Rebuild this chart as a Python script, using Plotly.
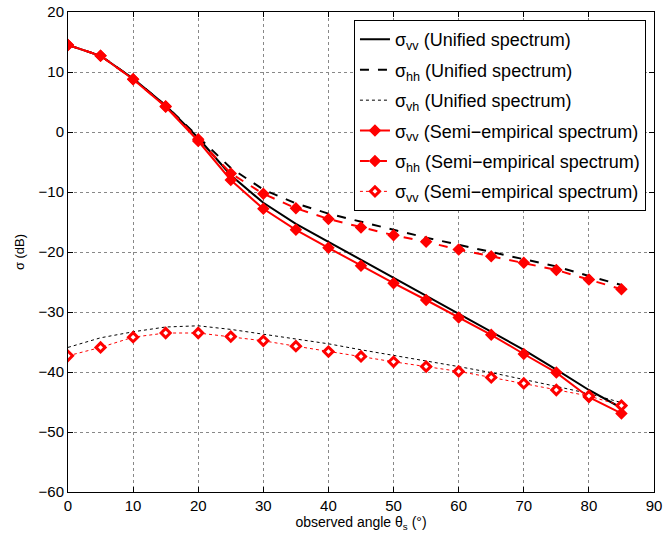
import plotly.graph_objects as go

angles = [0, 5, 10, 15, 20, 25, 30, 35, 40, 45, 50, 55, 60, 65, 70, 75, 80, 85]

uni_vv = [14.5, 12.7, 8.9, 4.4, -1.0, -7.2, -11.8, -15.3, -18.3, -21.3, -24.2, -27.2, -30.2, -33.2, -36.3, -39.6, -43.0, -46.0]
uni_hh = [14.5, 12.7, 8.9, 4.4, -0.8, -6.0, -9.6, -11.9, -13.6, -15.0, -16.3, -17.6, -18.8, -20.0, -21.1, -22.4, -24.0, -25.5]
uni_vh = [-35.9, -34.3, -33.3, -32.5, -32.3, -32.9, -33.7, -34.5, -35.3, -36.3, -37.2, -38.2, -39.1, -40.1, -41.2, -42.4, -43.6, -45.1]

semi_vv = [14.5, 12.7, 8.8, 4.2, -1.5, -8.0, -12.8, -16.3, -19.3, -22.3, -25.2, -28.0, -30.9, -33.8, -37.0, -40.1, -44.2, -46.9]
semi_hh = [14.5, 12.7, 8.8, 4.3, -1.2, -6.9, -10.3, -12.7, -14.5, -15.9, -17.2, -18.3, -19.6, -20.7, -21.8, -23.0, -24.6, -26.2]
semi_vh = [-37.3, -35.9, -34.2, -33.5, -33.5, -34.1, -34.8, -35.7, -36.6, -37.4, -38.3, -39.1, -39.9, -40.9, -41.9, -43.0, -44.0, -45.6]

x_ticks = [0, 10, 20, 30, 40, 50, 60, 70, 80, 90]
y_ticks = [20, 10, 0, -10, -20, -30, -40, -50, -60]

fig = go.Figure()

def add(y, name, group, color, dash, width, marker=None):
    kw = dict(x=angles, y=y, name=name, legendgroup=group,
              line=dict(color=color, dash=dash, width=width))
    if marker is None:
        kw["mode"] = "lines"
    else:
        kw["mode"] = "lines+markers"
        kw["marker"] = marker
    fig.add_trace(go.Scatter(**kw))

add(uni_vv, "σ<sub>vv</sub> (Unified spectrum)", "g1", "black", "solid", 2)
add(uni_hh, "σ<sub>hh</sub> (Unified spectrum)", "g2", "black", "dash", 2)
add(uni_vh, "σ<sub>vh</sub> (Unified spectrum)", "g3", "black", "dot", 1)
add(semi_vv, "σ<sub>vv</sub> (Semi−empirical spectrum)", "g4", "red", "solid", 2,
    dict(symbol="diamond", size=8, color="red", line=dict(color="red", width=1.5)))
add(semi_hh, "σ<sub>hh</sub> (Semi−empirical spectrum)", "g5", "red", "dash", 2,
    dict(symbol="diamond", size=8, color="red", line=dict(color="red", width=1.5)))
add(semi_vh, "σ<sub>vv</sub> (Semi−empirical spectrum)", "g6", "red", "dot", 1,
    dict(symbol="diamond", size=7, color="white", line=dict(color="red", width=3)))

axis_common = dict(
    showline=True, linecolor="black", linewidth=1, mirror="ticks",
    ticks="inside", ticklen=5, tickcolor="black", automargin=False,
    showgrid=True, gridcolor="#888888", griddash="dot", gridwidth=1,
    zeroline=False, tickfont=dict(family="Liberation Sans, Arial", size=15, color="black"),
)

fig.update_xaxes(range=[0, 90], tickvals=x_ticks, ticktext=[str(v) for v in x_ticks],
                 title=dict(text="observed angle θ<sub>s</sub> (°)", font=dict(size=14, color="black"), standoff=2),
                 **axis_common)
fig.update_yaxes(range=[-60, 20], tickvals=y_ticks, ticktext=[str(v).replace("-", "−") for v in y_ticks],
                 title=dict(text="σ (dB)", font=dict(size=13, color="black"), standoff=10),
                 **axis_common)

fig.update_layout(
    width=663, height=539,
    margin=dict(l=68, r=9, t=12, b=47, autoexpand=False),
    paper_bgcolor="white", plot_bgcolor="white",
    font=dict(family="Liberation Sans, Arial", color="black"),
    legend=dict(x=0.488, y=0.983, xanchor="left", yanchor="top",
                bgcolor="white", bordercolor="black", borderwidth=1,
                font=dict(size=18, color="black"), itemwidth=30,
                tracegroupgap=4, traceorder="grouped"),
)

fig.write_html("out.html", config={"displayModeBar": False},
               post_script="document.body.style.margin='0';")
